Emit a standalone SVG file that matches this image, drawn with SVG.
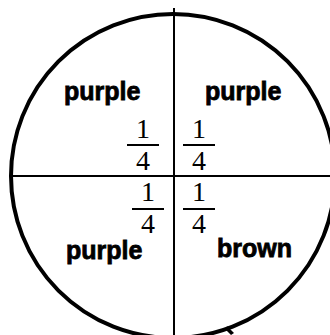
<svg xmlns="http://www.w3.org/2000/svg" width="330" height="335" viewBox="0 0 330 335">
<style>
.lbl{font-family:"Liberation Sans",Arial,sans-serif;font-weight:bold;font-size:25px;fill:#000;stroke:#000;stroke-width:0.8}
.num{font-family:"Liberation Serif","Times New Roman",serif;font-size:28px;fill:#000;text-anchor:middle}
.bar{stroke:#000;stroke-width:2}
</style>
<rect width="330" height="335" fill="#fff"/>
<g id="circle"><circle cx="173" cy="176" r="162" fill="none" stroke="#000" stroke-width="4"/></g>
<g id="connectors">
<line x1="174" y1="8" x2="174" y2="335" stroke="#000" stroke-width="2"/>
<line x1="12" y1="176" x2="330" y2="176" stroke="#000" stroke-width="2"/>
<polygon points="227,326 234,333 231,335 226,330" fill="#000"/>
</g>
<g id="q1"><text class="lbl" x="64" y="100">purple</text>
<text class="num" x="143" y="138">1</text><line class="bar" x1="127" y1="145" x2="159" y2="145"/><text class="num" x="143" y="170">4</text></g>
<g id="q2"><text class="lbl" x="205" y="100">purple</text>
<text class="num" x="199" y="138">1</text><line class="bar" x1="183" y1="145" x2="215" y2="145"/><text class="num" x="199" y="170">4</text></g>
<g id="q3"><text class="lbl" x="66" y="259">purple</text>
<text class="num" x="148" y="201">1</text><line class="bar" x1="132" y1="209" x2="164" y2="209"/><text class="num" x="148" y="233">4</text></g>
<g id="q4"><text class="lbl" x="217" y="257">brown</text>
<text class="num" x="199" y="201">1</text><line class="bar" x1="183" y1="209" x2="215" y2="209"/><text class="num" x="199" y="233">4</text></g>
</svg>
